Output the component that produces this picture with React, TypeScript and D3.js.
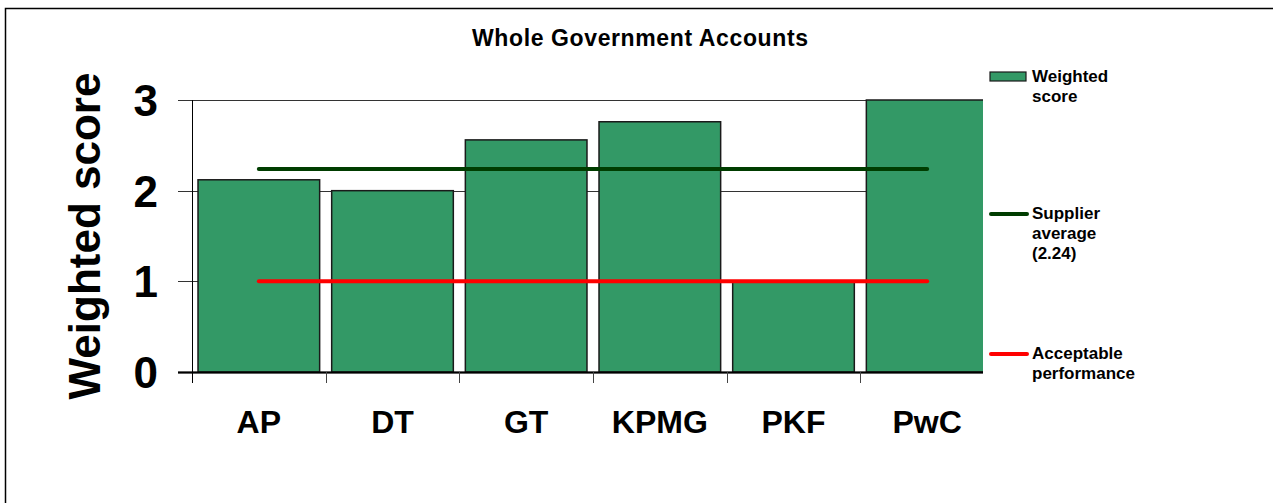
import React from 'react'
import * as d3 from 'd3'

const categories = ['AP', 'DT', 'GT', 'KPMG', 'PKF', 'PwC']
const weightedScore = [2.12, 2.0, 2.56, 2.76, 1.0, 3.0]
const supplierAverage = [2.24, 2.24, 2.24, 2.24, 2.24, 2.24]
const acceptablePerformance = [1, 1, 1, 1, 1, 1]
const yTicks = [0, 1, 2, 3]

const legendItems = [
  { kind: 'bar', lines: ['Weighted', 'score'], color: '#339966' },
  { kind: 'line', lines: ['Supplier', 'average', '(2.24)'], color: '#003d00' },
  { kind: 'line', lines: ['Acceptable', 'performance'], color: '#ff0000' },
]

const W = 1273
const H = 503
const FONT = 'Arial, "Liberation Sans", sans-serif'

export default function App() {
  const plotLeft = 192
  const plotRight = 983
  const plotTop = 100
  const plotBottom = 372

  const x = d3.scaleBand<string>()
    .domain(categories)
    .range([192, 994])
    .paddingInner(0.09)
    .paddingOuter(0.045)
  const step = x.step()
  const tickX = (c: string) => x(c)! - (step * x.paddingInner()) / 2

  const y = d3.scaleLinear().domain([0, 3]).range([plotBottom, plotTop])

  const center = (c: string) => x(c)! + x.bandwidth() / 2
  const line = d3.line<number>()
    .x((_, i) => center(categories[i]))
    .y(d => y(d))

  const legendY = [82, 219, 359]

  return (
    <svg width={W} height={H} style={{ position: 'absolute', left: 0, top: 0, display: 'block', background: '#fff' }}>
      <defs>
        <clipPath id="plotClip">
          <rect x={plotLeft} y={0} width={plotRight - plotLeft} height={plotBottom + 1} />
        </clipPath>
      </defs>
      <rect x={5.5} y={8.5} width={W + 20} height={H + 20} fill="none" stroke="#000" strokeWidth={1.5} />

      <text x={640} y={46} textAnchor="middle" fontFamily={FONT} fontWeight="bold" fontSize={23}
        textLength={336} lengthAdjust="spacing">Whole Government Accounts</text>

      {/* gridlines + y ticks */}
      {yTicks.map(t => (
        <line key={t} x1={178} x2={plotRight} y1={Math.round(y(t)) + 0.5} y2={Math.round(y(t)) + 0.5}
          stroke={t === 0 ? '#000' : '#333'} strokeWidth={t === 0 ? 1.5 : 1} />
      ))}

      {/* bars */}
      <g clipPath="url(#plotClip)">
        {categories.map((c, i) => (
          <rect key={c} x={x(c)} y={y(weightedScore[i])} width={x.bandwidth()}
            height={y(0) - y(weightedScore[i])} fill="#339966" stroke="#1a1a1a" strokeWidth={1.5} />
        ))}
      </g>

      {/* axes */}
      <line x1={plotLeft + 0.5} x2={plotLeft + 0.5} y1={plotTop} y2={383} stroke="#000" strokeWidth={1} />
      <line x1={178} x2={plotRight} y1={plotBottom + 0.5} y2={plotBottom + 0.5} stroke="#000" strokeWidth={2} />
      {categories.slice(1).map(c => (
        <line key={c} x1={Math.round(tickX(c)) + 0.5} x2={Math.round(tickX(c)) + 0.5} y1={plotBottom} y2={383}
          stroke="#444" strokeWidth={1} />
      ))}

      {/* lines */}
      <path d={line(supplierAverage)!} fill="none" stroke="#003d00" strokeWidth={4} strokeLinecap="round" />
      <path d={line(acceptablePerformance)!} fill="none" stroke="#ff0000" strokeWidth={4} strokeLinecap="round" />

      {/* y tick labels */}
      {yTicks.map(t => (
        <text key={t} x={158} y={y(t) + 16} textAnchor="end" fontFamily={FONT} fontWeight="bold" fontSize={44}>{t}</text>
      ))}

      <text transform={`translate(100,236) rotate(-90)`} textAnchor="middle" fontFamily={FONT}
        fontWeight="bold" fontSize={44}>Weighted score</text>

      {/* x labels */}
      {categories.map(c => (
        <text key={c} x={center(c)} y={433} textAnchor="middle" fontFamily={FONT} fontWeight="bold" fontSize={32}>{c}</text>
      ))}

      {/* legend */}
      {legendItems.map((item, i) => (
        <g key={i}>
          {item.kind === 'bar'
            ? <rect x={990} y={72} width={36} height={9} fill={item.color} stroke="#1a1a1a" strokeWidth={1.2} />
            : <line x1={991} x2={1027} y1={legendY[i] - 5} y2={legendY[i] - 5} stroke={item.color} strokeWidth={4} strokeLinecap="round" />}
          {item.lines.map((l, j) => (
            <text key={j} x={1032} y={legendY[i] + j * 20} fontFamily={FONT} fontWeight="bold" fontSize={17}>{l}</text>
          ))}
        </g>
      ))}
    </svg>
  )
}
